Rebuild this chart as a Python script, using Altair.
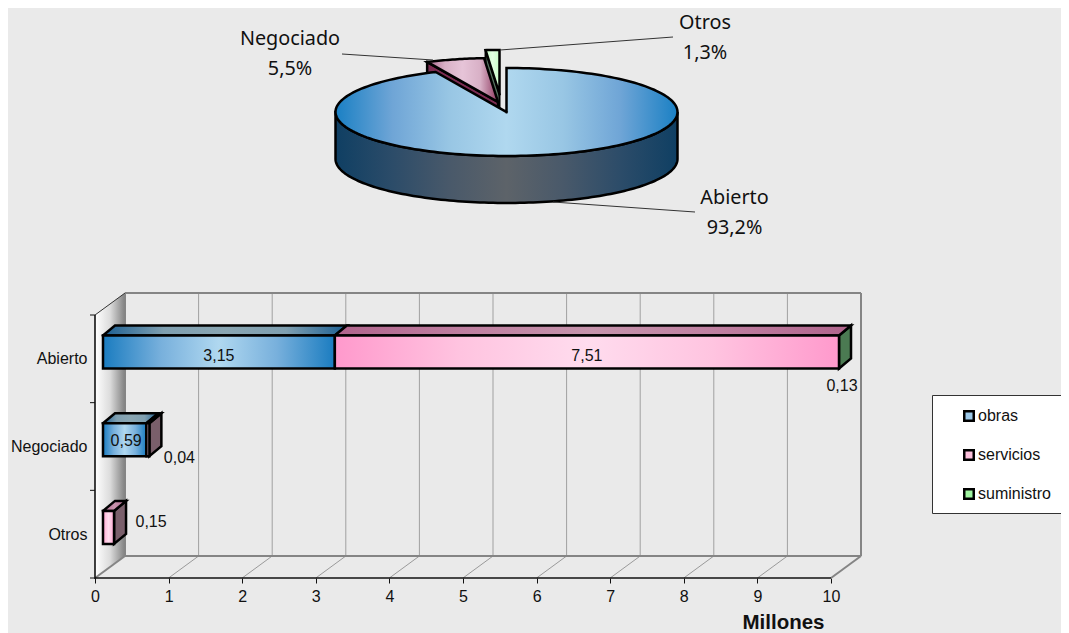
import math
import altair as alt

# ---- values ----
CATEGORIES = ["Abierto", "Negociado", "Otros"]
OBRAS = [3.15, 0.59, 0.0]
SERVICIOS = [7.51, 0.04, 0.15]
SUMINISTRO = [0.13, 0.0, 0.0]
SERIES = ["obras", "servicios", "suministro"]
PIE_LABELS = ["Abierto", "Negociado", "Otros"]
PIE_SHARES = [93.2, 5.5, 1.3]
X_TICKS = list(range(0, 11))

FONT = "Liberation Sans"
PIE_FONT = "Noto Sans"
BG = "#eaeaea"
TXT = 16

# ---- frame: the x scale is in millones, the y scale in page rows ----
W, H = 1053, 625
X0, UNIT = 95.0, 73.6
AXIS_MAX = 10
def v(px):
    return (px - X0) / UNIT
X_SCALE = alt.Scale(domain=[v(8), v(8 + W)], nice=False, zero=False)
Y_SCALE = alt.Scale(domain=[8 + H, 8], nice=False, zero=False)

WALL_DX, WALL_DY = 30, -22
FLOOR_Y, WALL_TOP_FRONT = 578, 315
BAR_BASE, BAR_DX, BAR_DY = 8, 12, -10
BAR_TOP0, BAR_STEP, BAR_H = 335.5, 87.7, 33

label_ys = [358, 446, 534]
y_expr = " : ".join(f"datum.value == {y} ? '{c}'" for y, c in zip(label_ys, CATEGORIES)) + " : ''"
X_AXIS = alt.Axis(values=X_TICKS, domain=False, grid=False, tickColor="#111", tickSize=5,
                  labelFont=FONT, labelFontSize=TXT, labelColor="#111", labelPadding=5,
                  offset=-(8 + H - FLOOR_Y), title="Millones", titleFont=FONT, titleFontSize=20.5,
                  titleFontWeight="bold", titleColor="#111", titleX=775, titleY=44,
                  titleBaseline="middle", titleAlign="center", labelOverlap=False, format="d")
Y_AXIS = alt.Axis(values=label_ys, domain=False, grid=False, ticks=False, labelPadding=0,
                  labelFont=FONT, labelFontSize=TXT, labelColor="#111", offset=-79, title=None,
                  labelExpr=y_expr, labelOverlap=False)


def hgrad(*stops):
    n = len(stops) - 1
    return {"gradient": "linear", "x1": 0, "x2": 1, "y1": 0, "y2": 0,
            "stops": [{"offset": i / n, "color": c} for i, c in enumerate(stops)]}


def poly_rows(pid, pts, **extra):
    pts = list(pts) + [pts[0]]
    return [dict(id=pid, i=i, x=v(px), y=py, **extra) for i, (px, py) in enumerate(pts)]


def ex():
    return alt.X("x:Q", scale=X_SCALE, axis=X_AXIS)


def ey():
    return alt.Y("y:Q", scale=Y_SCALE, axis=Y_AXIS)


def polys(rows, **mark):
    mark.setdefault("stroke", "black")
    mark.setdefault("strokeWidth", 2.5)
    mark.setdefault("strokeJoin", "miter")
    mark.setdefault("strokeCap", "square")
    return alt.Chart(alt.Data(values=rows)).mark_line(clip=False, **mark).encode(
        x=ex(), y=ey(), order=alt.Order("i:Q"), detail="id:N")


def rules(segments, color, width):
    rows = [dict(x=v(a), x2=v(c), y=b, y2=d) for a, b, c, d in segments]
    return alt.Chart(alt.Data(values=rows)).mark_rule(color=color, strokeWidth=width).encode(
        x=ex(), x2="x2:Q", y=ey(), y2="y2:Q")


def texts(rows, font=FONT, size=TXT, **mark):
    return alt.Chart(alt.Data(values=rows)).mark_text(
        font=font, fontSize=size, color="#111", baseline="middle", **mark
    ).encode(x=ex(), y=ey(), text="t:N")


# ---- pie ----
CX, CY, RX, RY, DEPTH = 506.5, 112.0, 171.0, 44.0, 47.0
EXPLODE = {"Abierto": (0, 0), "Negociado": (-8.5, -10), "Otros": (-7, -18)}


def ell(cx, cy, frac):
    a = 2 * math.pi * frac
    return (cx + RX * math.sin(a), cy - RY * math.cos(a))


def arc(cx, cy, f0, f1, n=90):
    return [ell(cx, cy, f0 + (f1 - f0) * k / n) for k in range(n + 1)]


total = sum(PIE_SHARES)
fr = []
acc = 0.0
for s in PIE_SHARES:
    fr.append((acc / total, (acc + s) / total))
    acc += s

layers = []

# left wall, floor and back wall of the 3-D frame
left_wall = [(X0, WALL_TOP_FRONT), (X0 + WALL_DX, WALL_TOP_FRONT + WALL_DY),
             (X0 + WALL_DX, FLOOR_Y + WALL_DY), (X0, FLOOR_Y)]
layers.append(polys(poly_rows("wall", left_wall),
                    fill=hgrad("#ffffff", "#dcdcdc", "#808080"), stroke="#808080", strokeWidth=0))
back_l, back_r = X0 + WALL_DX, X0 + WALL_DX + AXIS_MAX * UNIT
back_t, back_b = WALL_TOP_FRONT + WALL_DY, FLOOR_Y + WALL_DY
grid = [(X0 + WALL_DX + t * UNIT, back_t, X0 + WALL_DX + t * UNIT, back_b) for t in X_TICKS[1:-1]]
floor = [(X0 + t * UNIT, FLOOR_Y, X0 + WALL_DX + t * UNIT, back_b) for t in X_TICKS[1:-1]]
layers.append(rules(grid, "#a0a0a0", 1))
layers.append(rules(floor, "#9a9a9a", 1))
layers.append(rules([(back_l, back_t, back_r, back_t), (back_r, back_t, back_r, back_b),
                     (back_l, back_b, back_r, back_b), (back_l, back_t, back_l, back_b),
                     (X0, FLOOR_Y, back_l, back_b),
                     (X0 + AXIS_MAX * UNIT, FLOOR_Y, back_r, back_b)], "#858585", 2))
layers.append(rules([(X0, WALL_TOP_FRONT, back_l, back_t)], "#333333", 1))
layers.append(rules([(X0, WALL_TOP_FRONT, X0, FLOOR_Y + 1),
                     (X0, FLOOR_Y, X0 + AXIS_MAX * UNIT, FLOOR_Y)], "#111111", 1.6))
layers.append(rules([(X0 - 5, y, X0, y) for y in
                     [WALL_TOP_FRONT + k * (FLOOR_Y - WALL_TOP_FRONT) / 3 for k in range(4)]],
                    "#111111", 1))

# bars: stacked from the values, cut off at the axis maximum as in the original
tops = {"obras": [], "servicios": [], "suministro": []}
fronts = {"obras": [], "servicios": [], "suministro": []}
sides = []
SIDE_COLOR = {"servicios": "#7a5f6b", "suministro": "#4b7a52"}
for c, cat in enumerate(CATEGORIES):
    y0 = BAR_TOP0 + c * BAR_STEP
    start = 0.0
    last = None
    vals = dict(zip(SERIES, [OBRAS[c], SERVICIOS[c], SUMINISTRO[c]]))
    for s in SERIES:
        if vals[s] <= 0:
            continue
        last = s
        a, b = min(start, AXIS_MAX), min(start + vals[s], AXIS_MAX)
        start += vals[s]
        if b <= a:
            continue
        pa, pb = X0 + BAR_BASE + a * UNIT, X0 + BAR_BASE + b * UNIT
        tops[s] += poly_rows(f"{cat}-{s}", [(pa, y0), (pa + BAR_DX, y0 + BAR_DY),
                                            (pb + BAR_DX, y0 + BAR_DY), (pb, y0)])
        fronts[s].append(dict(x=a + BAR_BASE / UNIT, x2=b + BAR_BASE / UNIT, y=y0, y2=y0 + BAR_H))
    pe = X0 + BAR_BASE + min(start, AXIS_MAX) * UNIT
    sides += poly_rows(f"{cat}-side", [(pe, y0), (pe + BAR_DX, y0 + BAR_DY),
                                       (pe + BAR_DX, y0 + BAR_H + BAR_DY), (pe, y0 + BAR_H)],
                       c=SIDE_COLOR[last])

layers.append(alt.Chart(alt.Data(values=sides)).mark_line(
    stroke="black", strokeWidth=2.5, strokeJoin="miter", strokeCap="square").encode(
    x=ex(), y=ey(), order=alt.Order("i:Q"), detail="id:N", fill=alt.Fill("c:N", scale=None)))
layers.append(polys(tops["obras"], fill=hgrad("#1c5f92", "#7f9fb0", "#8aa6b2", "#7f9fb0", "#1c5f92")))
layers.append(polys(tops["servicios"], fill=hgrad("#b0648c", "#bf7fa0", "#c694ac", "#bf7fa0", "#b0648c")))


def front_bars(rows, fill):
    return alt.Chart(alt.Data(values=rows)).mark_bar(
        fill=fill, stroke="black", strokeWidth=2.5, clip=False).encode(
        x=ex(), x2="x2:Q", y=ey(), y2="y2:Q")


layers.append(front_bars(fronts["obras"], hgrad("#1a7cc0", "#78b0dc", "#b0d8f0", "#78b0dc", "#1a7cc0")))
layers.append(front_bars(fronts["servicios"], hgrad("#ff99cc", "#ffc4e0", "#ffdcee", "#ffc4e0", "#ff99cc")))

# bar value labels
bar_end = lambda c: OBRAS[c] + SERVICIOS[c]
fmt = lambda n: f"{n:.2f}".replace(".", ",")
label_rows = [
    dict(t=fmt(OBRAS[0]), x=BAR_BASE / UNIT + OBRAS[0] / 2, y=356),
    dict(t=fmt(SERVICIOS[0]), x=BAR_BASE / UNIT + (OBRAS[0] + AXIS_MAX) / 2, y=356),
    dict(t=fmt(SUMINISTRO[0]), x=AXIS_MAX + BAR_BASE / UNIT + 3 / UNIT, y=386),
    dict(t=fmt(OBRAS[1]), x=BAR_BASE / UNIT + OBRAS[1] / 2 + 0.02, y=441),
    dict(t=fmt(SERVICIOS[1]), x=BAR_BASE / UNIT + bar_end(1) + 30 / UNIT, y=458),
    dict(t=fmt(SERVICIOS[2]), x=BAR_BASE / UNIT + bar_end(2) + 37 / UNIT, y=522),
]
layers.append(texts(label_rows))

# pie: cut walls and tops of the exploded slices, then the big slice
neg_c = (CX + EXPLODE["Negociado"][0], CY + EXPLODE["Negociado"][1])
otr_c = (CX + EXPLODE["Otros"][0], CY + EXPLODE["Otros"][1])
p = ell(*otr_c, fr[2][0])
layers.append(polys(poly_rows("otros-wall", [p, otr_c, (otr_c[0], otr_c[1] + DEPTH), (p[0], p[1] + DEPTH)]),
                    fill="#55735f", strokeWidth=2))
layers.append(polys(poly_rows("otros", [otr_c] + arc(*otr_c, *fr[2], 12)),
                    fill=hgrad("#c4fcc4", "#e2ffe2", "#c8fcc8")))
p = ell(*neg_c, fr[1][0])
layers.append(polys(poly_rows("neg-wall", [p, neg_c, (neg_c[0], neg_c[1] + DEPTH), (p[0], p[1] + DEPTH)]),
                    fill="#7c2c52"))
layers.append(polys(poly_rows("neg", [neg_c] + arc(*neg_c, *fr[1], 24)),
                    fill=hgrad("#a8648a", "#d8b0c6", "#e6c4d8", "#d8b0c6", "#8e3a60")))
side = arc(CX, CY, 0.75, 0.25, 120)
side_low = [(a, b + DEPTH) for a, b in reversed(side)]
layers.append(polys(poly_rows("abierto-side", side + side_low),
                    fill=hgrad("#0f3f63", "#2c4c69", "#49596a", "#5d6369", "#49596a", "#2c4c69", "#0f3f63")))
layers.append(polys(poly_rows("abierto", [(CX, CY)] + arc(CX, CY, *fr[0], 180)),
                    fill=hgrad("#1a80c4", "#6fa5d6", "#98c6e4", "#b0d8ef", "#98c6e4", "#6fa5d6", "#1a80c4")))

# leader lines and pie labels
layers.append(rules([(342, 54, 433, 60), (500, 50, 673, 37), (553, 202, 695, 212)], "#333333", 1))
pct = lambda s: f"{s:.1f}".replace(".", ",") + "%"
pie_text = [
    dict(t=PIE_LABELS[1], x=v(290), y=39), dict(t=pct(PIE_SHARES[1]), x=v(290), y=69),
    dict(t=PIE_LABELS[2], x=v(705), y=23), dict(t=pct(PIE_SHARES[2]), x=v(705), y=53),
    dict(t=PIE_LABELS[0], x=v(734.5), y=198), dict(t=pct(PIE_SHARES[0]), x=v(734.5), y=228),
]
layers.append(texts(pie_text, font=PIE_FONT, size=19.8))

# legend box and real legend
layers.append(alt.Chart(alt.Data(values=[dict(x=v(932.5), x2=v(1080), y=395.5, y2=513.5)])).mark_rect(
    fill="white", stroke="#333333", strokeWidth=1, clip=True).encode(
    x=ex(), x2="x2:Q", y=ey(), y2="y2:Q"))
legend_rows = [dict(serie=s, x=0, y=450) for s in SERIES]
layers.append(alt.Chart(alt.Data(values=legend_rows)).mark_square(size=0, filled=True).encode(
    x=ex(), y=ey(),
    color=alt.Color("serie:N", scale=alt.Scale(domain=SERIES, range=["#9cc8e8", "#fdc0dc", "#a0f5a0"]),
                    legend=alt.Legend(orient="none", legendX=953, legendY=400, title=None, padding=0,
                                      symbolType="square", symbolSize=90, symbolStrokeColor="black",
                                      symbolStrokeWidth=2.5, symbolOpacity=1, labelFont=FONT, labelFontSize=TXT,
                                      labelColor="#111", labelOffset=1, rowPadding=19, zindex=2))))

chart = alt.layer(*layers).properties(
    width=W, height=H, background=BG,
    autosize=alt.AutoSizeParams(type="none"), padding=0,
).configure_view(stroke=None)

chart.save("out.html", embed_options={"renderer": "svg", "actions": False})
